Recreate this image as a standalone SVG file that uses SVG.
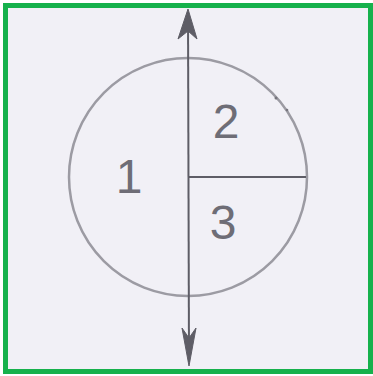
<svg xmlns="http://www.w3.org/2000/svg" width="373" height="376" viewBox="0 0 373 376">
<style>
.frame{fill:#f1f0f6;stroke:#16b14c;stroke-width:5}
.circ{fill:none;stroke:#9c9ba3;stroke-width:2.5}
.ln{fill:none;stroke:#5e5d66;stroke-width:2}
.ah{fill:#5e5d66;stroke:#5e5d66;stroke-width:1;stroke-linejoin:round}
.lbl{font-family:"Liberation Sans",Arial,sans-serif;font-size:48px;fill:#6e6d76;text-anchor:middle}
.dot{fill:#77767e}
</style>
<rect width="373" height="376" fill="#ffffff"/>
<rect class="frame" x="5.5" y="5.5" width="365" height="366"/>
<g id="circle">
<circle class="circ" cx="188" cy="177" r="119"/>
<circle class="dot" cx="276" cy="98" r="1.5"/>
<circle class="dot" cx="287" cy="110" r="1.3"/>
</g>
<g id="connectors">
<line class="ln" x1="188" y1="12" x2="189" y2="362"/>
<line class="ln" x1="188" y1="177" x2="306" y2="177"/>
<path class="ah" d="M188,9 L178,39 L188,31 L197,39 Z"/>
<path class="ah" d="M189,366 L182,328 L189,338 L196,328 Z"/>
</g>
<g id="label1"><text class="lbl" x="129" y="193">1</text></g>
<g id="label2"><text class="lbl" x="226" y="138">2</text></g>
<g id="label3"><text class="lbl" x="223" y="239">3</text></g>
</svg>
